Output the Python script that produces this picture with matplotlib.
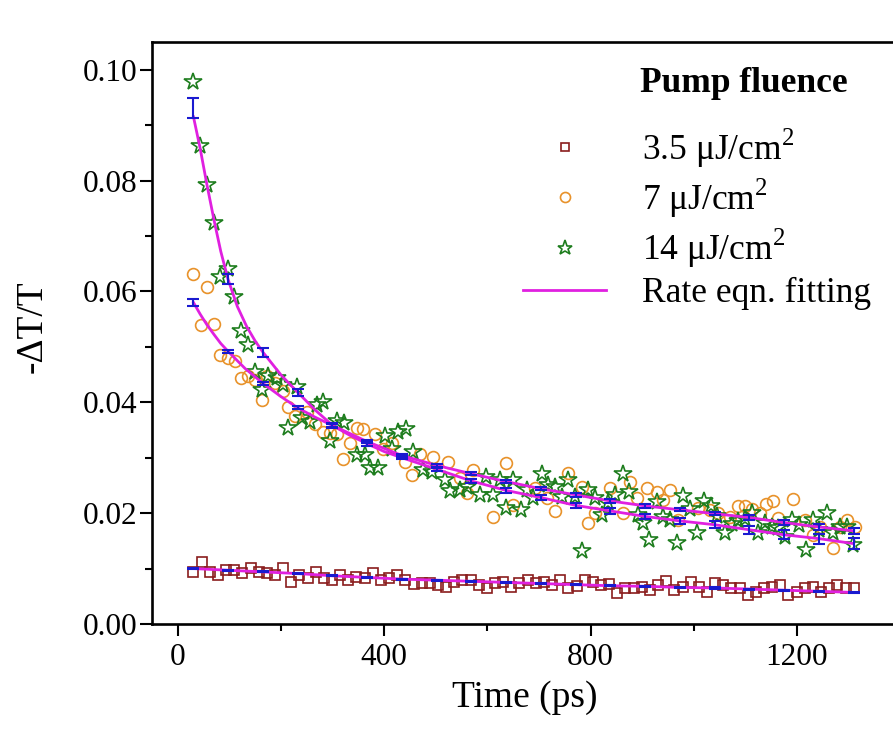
import numpy as np
import matplotlib
matplotlib.use("Agg")
import matplotlib.pyplot as plt
from matplotlib.ticker import MultipleLocator, FormatStrFormatter

plt.rcParams['font.family'] = ['Liberation Serif', 'DejaVu Serif']
plt.rcParams['mathtext.fontset'] = 'custom'
plt.rcParams['mathtext.rm'] = 'Liberation Serif'

# 3.5 uJ/cm2 data (regular sampling)
t35 = np.linspace(30, 1310, 82)
dT35 = [0.0094, 0.0112, 0.0094, 0.0089, 0.0098, 0.0098, 0.0092, 0.0101, 0.0094, 0.0092,
        0.0089, 0.0101, 0.0076, 0.0089, 0.0083, 0.0094, 0.0083, 0.0080, 0.0089, 0.0080,
        0.0085, 0.0083, 0.0092, 0.0080, 0.0083, 0.0089, 0.0080, 0.0072, 0.0074, 0.0074,
        0.0071, 0.0067, 0.0076, 0.0080, 0.0080, 0.0071, 0.0065, 0.0074, 0.0076, 0.0067,
        0.0074, 0.0080, 0.0074, 0.0076, 0.0071, 0.0080, 0.0065, 0.0069, 0.0080, 0.0076,
        0.0071, 0.0072, 0.0056, 0.0065, 0.0065, 0.0067, 0.0062, 0.0071, 0.0078, 0.0062,
        0.0067, 0.0076, 0.0067, 0.0058, 0.0074, 0.0071, 0.0065, 0.0065, 0.0052, 0.0058,
        0.0065, 0.0067, 0.0071, 0.0052, 0.0058, 0.0065, 0.0067, 0.0058, 0.0065, 0.0071,
        0.0065, 0.0065]

# 7 uJ/cm2 data
t7 = [29, 45, 56, 70, 81, 97, 110, 122, 136, 149, 163, 172, 188, 204, 213, 227, 250, 265, 281, 295,
      308, 320, 333, 347, 359, 382, 397, 415, 440, 453, 469, 494, 523, 547, 560, 572, 610, 636, 649, 692,
      715, 731, 756, 783, 795, 808, 837, 863, 876, 890, 909, 929, 940, 954, 969, 1008, 1031, 1047, 1070, 1085,
      1099, 1113, 1128, 1140, 1153, 1163, 1192, 1215, 1231, 1244, 1270, 1283, 1297, 1312]
dT7 = [0.0631, 0.0539, 0.0608, 0.0542, 0.0486, 0.0480, 0.0474, 0.0443, 0.0447, 0.0440,
       0.0405, 0.0447, 0.0435, 0.0420, 0.0392, 0.0375, 0.0383, 0.0360, 0.0347, 0.0345,
       0.0342, 0.0297, 0.0327, 0.0354, 0.0351, 0.0342, 0.0315, 0.0327, 0.0293, 0.0269,
       0.0306, 0.0302, 0.0293, 0.0264, 0.0237, 0.0277, 0.0193, 0.0291, 0.0215, 0.0246,
       0.0228, 0.0203, 0.0273, 0.0248, 0.0183, 0.0201, 0.0246, 0.0201, 0.0257, 0.0228,
       0.0246, 0.0239, 0.0224, 0.0241, 0.0188, 0.0210, 0.0206, 0.0201, 0.0193, 0.0212,
       0.0212, 0.0208, 0.0201, 0.0217, 0.0222, 0.0192, 0.0226, 0.0188, 0.0161, 0.0175,
       0.0137, 0.0175, 0.0188, 0.0175]

# 14 uJ/cm2 data
t14 = [29, 43, 56, 70, 81, 97, 109, 122, 136, 149, 163, 174, 192, 204, 213, 231, 240, 256, 269, 281,
       295, 308, 322, 347, 362, 372, 388, 401, 415, 426, 442, 456, 475, 492, 518, 527, 547, 560, 585, 597,
       611, 624, 636, 649, 665, 677, 688, 706, 717, 731, 744, 756, 770, 783, 795, 808, 822, 834, 847, 863,
       874, 892, 901, 913, 929, 940, 954, 967, 979, 993, 1006, 1020, 1033, 1045, 1060, 1074, 1086, 1100, 1113, 1124,
       1138, 1152, 1163, 1177, 1190, 1204, 1218, 1231, 1243, 1258, 1270, 1283, 1297, 1309]
dT14 = [0.0978, 0.0863, 0.0792, 0.0723, 0.0626, 0.0640, 0.0590, 0.0528, 0.0503, 0.0454,
        0.0423, 0.0447, 0.0443, 0.0432, 0.0354, 0.0428, 0.0372, 0.0364, 0.0396, 0.0400,
        0.0331, 0.0367, 0.0363, 0.0304, 0.0304, 0.0282, 0.0282, 0.0340, 0.0316, 0.0347,
        0.0352, 0.0310, 0.0278, 0.0275, 0.0260, 0.0240, 0.0242, 0.0248, 0.0233, 0.0266,
        0.0233, 0.0260, 0.0210, 0.0260, 0.0206, 0.0242, 0.0228, 0.0271, 0.0250, 0.0248,
        0.0230, 0.0260, 0.0230, 0.0132, 0.0242, 0.0228, 0.0197, 0.0219, 0.0233, 0.0271,
        0.0239, 0.0197, 0.0183, 0.0152, 0.0221, 0.0193, 0.0188, 0.0147, 0.0231, 0.0208,
        0.0165, 0.0222, 0.0212, 0.0194, 0.0165, 0.0181, 0.0185, 0.0190, 0.0201, 0.0165,
        0.0183, 0.0175, 0.0174, 0.0157, 0.0188, 0.0179, 0.0134, 0.0188, 0.0170, 0.0201,
        0.0165, 0.0175, 0.0175, 0.0143]

# rate equation fits
fit14_t = [30, 43, 56, 70, 83, 97, 115, 133, 150, 165, 200, 232, 266, 300, 334, 367, 400, 434,
           502, 569, 636, 704, 771, 838, 906, 973, 1041, 1108, 1175, 1243, 1310]
fit14 = [0.0915, 0.0858, 0.0793, 0.0728, 0.0672, 0.0622, 0.0573, 0.0537, 0.0510, 0.0490, 0.0449,
         0.0418, 0.0386, 0.0358, 0.0340, 0.0325, 0.0311, 0.0300, 0.0279, 0.0258, 0.0241, 0.0228,
         0.0214, 0.0204, 0.0194, 0.0186, 0.0179, 0.0170, 0.0161, 0.0154, 0.0145]
fit7_t = [30, 43, 56, 70, 83, 97, 130, 165, 200, 232, 266, 300, 367, 434, 502, 569, 636, 704,
          771, 838, 906, 973, 1041, 1108, 1175, 1243, 1310]
fit7 = [0.0580, 0.0559, 0.0540, 0.0522, 0.0506, 0.0492, 0.0461, 0.0434, 0.0410, 0.0390, 0.0373,
        0.0358, 0.0329, 0.0304, 0.0286, 0.0271, 0.0257, 0.0244, 0.0233, 0.0222, 0.0213, 0.0206,
        0.0199, 0.0192, 0.0183, 0.0175, 0.0168]

# error bars on the fits
bar_t = np.linspace(30, 1310, 20)
bar14 = [0.0931, 0.0622, 0.0490, 0.0418, 0.0358, 0.0325, 0.0300, 0.0279, 0.0258, 0.0241,
         0.0228, 0.0214, 0.0204, 0.0194, 0.0186, 0.0179, 0.0170, 0.0161, 0.0154, 0.0145]
err14 = [0.0018, 0.0009, 0.0008, 0.0006, 0.0005, 0.0003, 0.0003, 0.0003, 0.0004, 0.0004,
         0.0004, 0.0005, 0.0005, 0.0005, 0.0006, 0.0006, 0.0007, 0.0008, 0.0009, 0.0010]
bar7 = [0.0580, 0.0492, 0.0434, 0.0390, 0.0358, 0.0329, 0.0304, 0.0286, 0.0271, 0.0257,
        0.0244, 0.0233, 0.0222, 0.0213, 0.0206, 0.0199, 0.0192, 0.0183, 0.0175, 0.0168]
err7 = [0.0006, 0.0003, 0.0003, 0.0003, 0.0003, 0.0003, 0.0003, 0.0003, 0.0003, 0.0003,
        0.0003, 0.0003, 0.0003, 0.0003, 0.0003, 0.0003, 0.0004, 0.0004, 0.0005, 0.0005]
fit35 = [0.0100, 0.0097, 0.0094, 0.0091, 0.0087, 0.0084, 0.0081, 0.0079, 0.0077, 0.0075,
         0.0073, 0.0071, 0.0069, 0.0068, 0.0066, 0.0065, 0.0063, 0.0061, 0.0059, 0.0057]
err35 = [0.0001] * 20

labels = ["3.5 \u03bcJ/cm$^2$", "7 \u03bcJ/cm$^2$", "14 \u03bcJ/cm$^2$", "Rate eqn. fitting"]

c_sq = "#8a1c1c"
c_ci = "#e8922a"
c_st = "#1e7d1e"
c_fit = "#e020e0"
c_err = "#1a1ad0"

fig = plt.figure(figsize=(8.93, 7.31), dpi=100)
ax = fig.add_axes([152 / 893, 107 / 731, 745 / 893, 582 / 731])

h1, = ax.plot(t35, dT35, ls='none', marker='s', ms=7.5, mfc='none', mec=c_sq, mew=1.2, zorder=2)
h2, = ax.plot(t7, dT7, ls='none', marker='o', ms=8.5, mfc='none', mec=c_ci, mew=1.2, zorder=2)
h3, = ax.plot(t14, dT14, ls='none', marker='*', ms=13, mfc='none', mec=c_st, mew=1.2, zorder=2)

hl, = ax.plot(fit14_t, fit14, color=c_fit, lw=2, zorder=3)
ax.plot(fit7_t, fit7, color=c_fit, lw=2, zorder=3)
ax.plot(bar_t, fit35, color=c_fit, lw=2, zorder=3)

for yv, ev in [(bar14, err14), (bar7, err7), (fit35, err35)]:
    ax.errorbar(bar_t, yv, yerr=ev, fmt='none', ecolor=c_err, elinewidth=1.5,
                capsize=4.5, capthick=1.5, zorder=4)

ax.set_xlim(-50.4, 1394)
ax.set_ylim(0, 0.105)
ax.xaxis.set_major_locator(MultipleLocator(400))
ax.xaxis.set_minor_locator(MultipleLocator(200))
ax.yaxis.set_major_locator(MultipleLocator(0.02))
ax.yaxis.set_minor_locator(MultipleLocator(0.01))
ax.yaxis.set_major_formatter(FormatStrFormatter('%.2f'))

for s in ax.spines.values():
    s.set_linewidth(1.9)
ax.tick_params(which='both', direction='out', top=False, right=False, width=1.5)
ax.tick_params(which='major', length=8.5, labelsize=22.5)
ax.tick_params(which='minor', length=5)
ax.tick_params(axis='y', pad=2)
ax.tick_params(axis='x', pad=5)

ax.set_xlabel("Time (ps)", fontsize=27, labelpad=6)
ax.set_ylabel("-\u0394T/T", fontsize=27)
ax.yaxis.set_label_coords(-0.137, 0.51)

ax.text((640 - 152) / 745, (624 - 83) / 582, "Pump fluence", transform=ax.transAxes,
        fontsize=25.5, fontweight='bold', ha='left', va='center')
ax.legend([h1, h2, h3, hl], labels, loc='upper left', bbox_to_anchor=(0.498, 0.855),
          frameon=False, fontsize=25.5, handlelength=2.35, handletextpad=1.0,
          labelspacing=0.2, borderpad=0, borderaxespad=0, markerscale=0.85)

fig.savefig("out.png", dpi=100)
